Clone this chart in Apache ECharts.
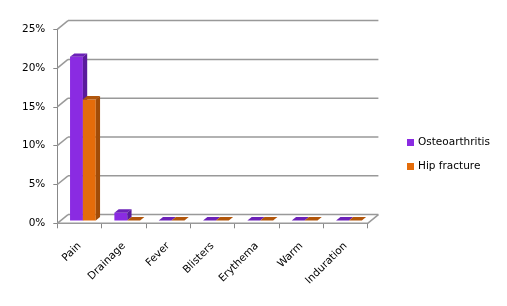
<!DOCTYPE html>
<html><head><meta charset="utf-8">
<script src="https://cdn.jsdelivr.net/npm/echarts@6/dist/echarts.min.js"></script>
<style>html,body{margin:0;padding:0;background:#fff}#c{width:507px;height:306px}</style>
</head><body><div id="c"></div>
<script>
var categories = ['Pain','Drainage','Fever','Blisters','Erythema','Warm','Induration'];
var osteoarthritis = [0.211, 0.010, 0, 0, 0, 0, 0];
var hipFracture = [0.156, 0, 0, 0, 0, 0, 0];
var yTicks = [0, 0.05, 0.10, 0.15, 0.20, 0.25];

var DX = 10.7, DY = -8.7;       // wall depth
var F = 0.32;                   // bar depth position
var BDX = 4.3, BDY = -3.4;      // bar depth
var FONT = 'DejaVu Sans';

var palettes = [
  {front:'#8A2BE2', top:'#6C22B8', side:'#5A1B9C'},
  {front:'#E46C0A', top:'#B2560B', side:'#A04C08'}
];

function barRender(sIdx){
  return function(params, api){
    var cat = api.value(0), val = api.value(1);
    var base = api.coord([cat, 0]);
    var top = api.coord([cat, val]);
    var bandW = api.size([1, 0])[0];
    var groupW = bandW * 0.58, barW = groupW / 2;
    var x0 = base[0] - groupW / 2 + sIdx * barW + DX * F;
    var yB = base[1] + DY * F, yT = top[1] + DY * F;
    var p = palettes[sIdx];
    return {type:'group', children:[
      {type:'rect', shape:{x:x0, y:yT, width:barW, height:yB - yT}, style:{fill:p.front}},
      {type:'polygon', shape:{points:[[x0,yT],[x0+barW,yT],[x0+barW+BDX,yT+BDY],[x0+BDX,yT+BDY]]}, style:{fill:p.top}},
      {type:'polygon', shape:{points:[[x0+barW,yT],[x0+barW+BDX,yT+BDY],[x0+barW+BDX,yB+BDY],[x0+barW,yB]]}, style:{fill:p.side}}
    ]};
  };
}

function wallRender(params, api){
  var v = api.value(1);
  var cs = params.coordSys;
  var left = cs.x, right = cs.x + cs.width;
  var y = api.coord([0, v])[1];
  var st = {stroke:'#999999', lineWidth:1.5};
  var ch = [
    {type:'line', shape:{x1:left, y1:y, x2:left+DX, y2:y+DY}, style:st},
    {type:'line', shape:{x1:left+DX, y1:y+DY, x2:right+DX, y2:y+DY}, style:st}
  ];
  if (v === 0) {
    ch.push({type:'line', shape:{x1:right, y1:y, x2:right+DX, y2:y+DY}, style:st});
    ch.push({type:'line', shape:{x1:left, y1:y, x2:right, y2:y}, style:st});
  }
  return {type:'group', children:ch};
}

var chart = echarts.init(document.getElementById('c'), null, {renderer:'canvas'});
chart.setOption({
  animation:false,
  backgroundColor:'#fff',
  grid:{left:57.3, top:29.3, width:310.4, height:194},
  legend:{
    orient:'vertical', left:402, top:132,
    itemWidth:7, itemHeight:7, itemGap:13, icon:'rect',
    data:['Osteoarthritis','Hip fracture'],
    textStyle:{fontFamily:FONT, fontSize:10.5, color:'#000', padding:[0,0,0,-1]}
  },
  xAxis:{
    type:'category', data:categories,
    axisLine:{show:true, lineStyle:{color:'#888', width:1}},
    axisTick:{show:true, length:5, lineStyle:{color:'#888'}},
    axisLabel:{rotate:45, fontFamily:FONT, fontSize:10.5, color:'#000', margin:21, interval:0},
    splitLine:{show:false}
  },
  yAxis:{
    type:'value', min:0, max:0.25, interval:0.05,
    axisLine:{show:true, lineStyle:{color:'#888', width:1}},
    axisTick:{show:true, length:4, lineStyle:{color:'#888'}},
    axisLabel:{fontFamily:FONT, fontSize:10.5, color:'#000', margin:12,
      formatter:function(v){return Math.round(v*100)+'%';}},
    splitLine:{show:false}
  },
  series:[
    {type:'custom', name:'wall', silent:true, z:1, renderItem:wallRender,
      data:yTicks.map(function(v){return [0, v];}), encode:{x:0, y:1}},
    {type:'custom', name:'Osteoarthritis', z:3, itemStyle:{color:palettes[0].front},
      renderItem:barRender(0), encode:{x:0, y:1},
      data:osteoarthritis.map(function(v,i){return [i, v];})},
    {type:'custom', name:'Hip fracture', z:3, itemStyle:{color:palettes[1].front},
      renderItem:barRender(1), encode:{x:0, y:1},
      data:hipFracture.map(function(v,i){return [i, v];})}
  ]
});
</script></body></html>
